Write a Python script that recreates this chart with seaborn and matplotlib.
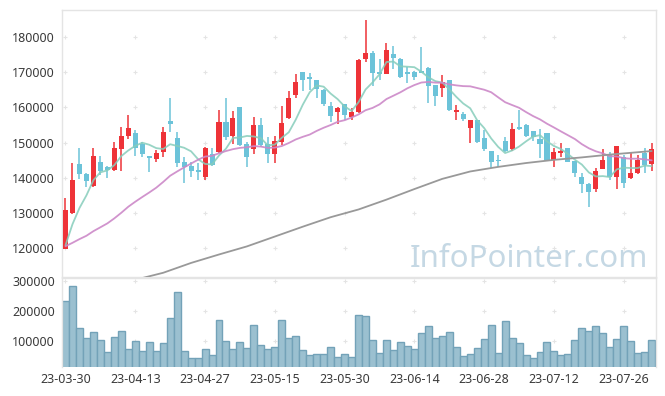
import numpy as np
import pandas as pd
import seaborn as sns
import matplotlib
matplotlib.use("Agg")
from matplotlib import pyplot as plt

# trading days shown on the chart
dates = ["23-03-30", "23-03-31",
         "23-04-03", "23-04-04", "23-04-05", "23-04-06", "23-04-07", "23-04-10", "23-04-11", "23-04-12",
         "23-04-13", "23-04-14", "23-04-17", "23-04-18", "23-04-19", "23-04-20", "23-04-21", "23-04-24",
         "23-04-25", "23-04-26", "23-04-27", "23-04-28",
         "23-05-02", "23-05-03", "23-05-04", "23-05-08", "23-05-09", "23-05-10", "23-05-11", "23-05-12",
         "23-05-15", "23-05-16", "23-05-17", "23-05-18", "23-05-19", "23-05-22", "23-05-23", "23-05-24",
         "23-05-25", "23-05-26", "23-05-30", "23-05-31",
         "23-06-01", "23-06-02", "23-06-05", "23-06-07", "23-06-08", "23-06-09", "23-06-12", "23-06-13",
         "23-06-14", "23-06-15", "23-06-16", "23-06-19", "23-06-20", "23-06-21", "23-06-22", "23-06-23",
         "23-06-26", "23-06-27", "23-06-28", "23-06-29", "23-06-30",
         "23-07-03", "23-07-04", "23-07-05", "23-07-06", "23-07-07", "23-07-10", "23-07-11", "23-07-12",
         "23-07-13", "23-07-14", "23-07-17", "23-07-18", "23-07-19", "23-07-20", "23-07-21", "23-07-24",
         "23-07-25", "23-07-26", "23-07-27", "23-07-28", "23-07-31",
         "23-08-01"]

opens = [119900, 130000, 143900, 141200, 137600, 144400, 143000, 142200, 148300, 151900,
         152600, 149600, 146200, 145300, 147400, 156100, 151400, 144400, 143300, 142200,
         140300, 146900, 147400, 155800, 151900, 160000, 149600, 148100, 155000, 149600,
         146700, 150200, 157100, 163500, 170000, 168400, 167800, 165100, 160400, 158800,
         161000, 157200, 158800, 173700, 175500, 170000, 169400, 175200, 173700, 170100,
         170000, 170100, 171100, 166400, 165600, 167800, 158600, 158100, 154200, 156400,
         151400, 147600, 144900, 150400, 148200, 154200, 155000, 153300, 151000, 152600,
         145000, 147100, 148500, 144800, 140300, 138200, 136900, 142400, 146700, 140100,
         146000, 140000, 141400, 147100, 143900]
highs = [134300, 144100, 148400, 141300, 148400, 146200, 143400, 150100, 154300, 157800,
         153600, 150200, 146300, 147900, 154500, 162600, 152900, 145800, 144500, 144100,
         148800, 148500, 159400, 162600, 159000, 160100, 150200, 157300, 156900, 151700,
         151800, 160400, 164700, 169500, 170000, 169800, 167900, 165300, 161600, 160000,
         161000, 159700, 173700, 184800, 176100, 173900, 178200, 177400, 174000, 171600,
         170300, 177100, 171600, 166400, 169200, 167900, 160700, 158800, 156400, 156400,
         153600, 147600, 146500, 151700, 155500, 159400, 155200, 153300, 154000, 152600,
         148500, 149800, 148600, 144800, 141400, 138400, 142700, 148100, 147200, 149000,
         146500, 147400, 146500, 148400, 150000]
lows = [119700, 129700, 139800, 137400, 137300, 140800, 139900, 142000, 142000, 150900,
        146200, 146000, 141700, 144500, 146000, 153100, 143000, 138400, 140100, 139500,
        139500, 143400, 147100, 150700, 149600, 149100, 143100, 146900, 148800, 144100,
        144100, 149300, 156800, 162600, 164700, 165100, 162600, 160500, 155900, 155200,
        156400, 156400, 158500, 173000, 166100, 167800, 169400, 170900, 168500, 167000,
        167900, 169700, 161400, 160400, 163000, 159000, 156400, 156100, 150000, 149900,
        147600, 142700, 143100, 147200, 147700, 153600, 151500, 150500, 145500, 144800,
        143100, 146000, 144400, 140300, 135700, 131600, 136000, 142400, 139500, 136700,
        137000, 139600, 141000, 141500, 142000]
closes = [130800, 139500, 141000, 139100, 146200, 142000, 142200, 148600, 151900, 154200,
          148500, 146700, 145700, 147100, 152900, 155300, 144300, 143100, 142000, 141700,
          148600, 143600, 155800, 151700, 156900, 149300, 145800, 155000, 149300, 146700,
          150400, 155500, 162800, 167300, 167800, 168200, 165200, 161000, 157500, 159900,
          157800, 158800, 173500, 175500, 169900, 169400, 176300, 174100, 168700, 169400,
          168700, 169900, 166200, 163200, 167300, 159200, 159200, 156700, 156400, 150200,
          148200, 144500, 144700, 147600, 153800, 153800, 151900, 151500, 149600, 145000,
          147200, 147600, 144500, 141400, 138100, 136000, 141900, 145000, 140100, 149000,
          138400, 141400, 145000, 143600, 148200]
volumes = [233000, 283000, 142000, 109000, 129000, 102000, 62000, 112000, 132000, 72000,
           99000, 66000, 96000, 66000, 92000, 176000, 262000, 66000, 42000, 42000,
           72000, 52000, 169000, 99000, 72000, 96000, 76000, 152000, 86000, 72000,
           79000, 169000, 109000, 116000, 69000, 52000, 56000, 56000, 79000, 46000,
           56000, 46000, 186000, 182000, 102000, 59000, 102000, 69000, 96000, 82000,
           72000, 126000, 149000, 109000, 116000, 129000, 79000, 49000, 56000, 76000,
           106000, 152000, 59000, 166000, 109000, 92000, 52000, 42000, 62000, 96000,
           66000, 52000, 56000, 102000, 142000, 132000, 149000, 126000, 79000, 106000,
           149000, 99000, 59000, 62000, 102000]

# moving averages as drawn on the chart
ma5 = [120800, 126800, 131400, 135000, 139320, 141560, 142100, 143620, 146180, 147780,
       149080, 149980, 149400, 148440, 148180, 149540, 149060, 148540, 147520, 145280,
       143940, 143800, 146340, 148280, 151320, 151460, 151900, 151740, 151260, 149220,
       149440, 151380, 152940, 156540, 160760, 164320, 166260, 165900, 163940, 162360,
       160280, 159000, 161500, 165100, 167100, 169420, 172920, 173040, 171680, 171580,
       171440, 170160, 168580, 167480, 167060, 165160, 163020, 161120, 159760, 156340,
       154140, 151200, 148800, 147040, 147760, 148880, 150360, 151720, 152120, 150360,
       149040, 148180, 146780, 145140, 143760, 141520, 140380, 140480, 140220, 142400,
       142880, 142780, 142780, 143480, 143320]
ma20 = [120540, 121515, 122565, 123520, 124830, 125930, 127040, 128470, 130065, 131775,
        133200, 134535, 135820, 137175, 138820, 140585, 141800, 142955, 144055, 145140,
        146030, 146235, 146975, 147605, 148140, 148505, 148685, 149005, 148875, 148500,
        148595, 149035, 149890, 150900, 151645, 152290, 153335, 154230, 155005, 155915,
        156375, 157135, 158020, 159210, 159860, 160865, 162390, 163345, 164315, 165450,
        166365, 167085, 167255, 167050, 167025, 166575, 166275, 166060, 166005, 165520,
        165040, 164325, 162885, 161490, 160685, 159905, 158685, 157555, 156600, 155380,
        154305, 153190, 152105, 151015, 149555, 148395, 147530, 146945, 146130, 146070,
        145580, 145425, 145440, 145240, 144960]
ma_long_idx = [11, 14, 18, 22, 26, 30, 34, 38, 42, 46, 50, 54, 58, 62, 66, 70, 74, 78, 84]
ma_long = [111500, 113000, 115800, 118200, 120500, 123300, 126100, 128800, 131000, 133800,
           136800, 139700, 141800, 143100, 144200, 145100, 145800, 146600, 147600]

price_ticks = [120000, 130000, 140000, 150000, 160000, 170000, 180000]
volume_ticks = [100000, 200000, 300000]

RED = "#ee3338"
BLUE = "#6cc3d9"
GRID = "#e4e4e4"
FRAME = "#e4e4e4"

sns.set_style("white")
plt.rcParams["font.family"] = ["Noto Sans", "DejaVu Sans"]

df = pd.DataFrame({"date": dates, "open": opens, "high": highs, "low": lows,
                   "close": closes, "volume": volumes, "ma5": ma5, "ma20": ma20})
df["idx"] = np.arange(len(df))
long_df = pd.DataFrame({"idx": ma_long_idx, "ma": ma_long})

W, H = 665, 396
fig = plt.figure(figsize=(W / 100, H / 100), dpi=100)
ax = fig.add_axes([62 / W, 1 - 277 / H, (655.5 - 62) / W, (277 - 10) / H])
ax_vol = fig.add_axes([62 / W, 1 - 367 / H, (655.5 - 62) / W, (367 - 277.5) / H])

# small "+" marks at tick crossings instead of grid lines
tick_idx = list(range(0, len(df), 10))
gx, gy = np.meshgrid(tick_idx, price_ticks)
ax.scatter(gx.ravel(), gy.ravel(), marker="+", s=9, color=GRID, linewidths=0.8, zorder=0)
gx, gy = np.meshgrid(tick_idx, volume_ticks)
ax_vol.scatter(gx.ravel(), gy.ravel(), marker="+", s=9, color=GRID, linewidths=0.8, zorder=0)

# candles
up = df["close"] >= df["open"]
colors = np.where(up, RED, BLUE)
ax.vlines(df["idx"], df["low"], df["high"], colors=colors, linewidth=1.1, zorder=2)
body_bottom = np.minimum(df["open"], df["close"])
body_height = np.maximum((df["close"] - df["open"]).abs(), 500)
ax.bar(df["idx"], body_height, bottom=body_bottom, width=0.72, color=colors,
       linewidth=0, zorder=3)

# moving averages
sns.lineplot(data=df, x="idx", y="ma5", ax=ax, color="#86cdbb", linewidth=1.3, alpha=0.85, zorder=4)
sns.lineplot(data=df, x="idx", y="ma20", ax=ax, color="#cc88c8", linewidth=1.3, alpha=0.9, zorder=4)
sns.lineplot(data=long_df, x="idx", y="ma", ax=ax, color="#999999", linewidth=1.3, zorder=4)

# volume
sns.barplot(data=df, x="idx", y="volume", ax=ax_vol, native_scale=True, width=1.0,
            color="#9bc0d0", edgecolor="#73a2b8", linewidth=1.0, saturation=1, zorder=2)

for a in (ax, ax_vol):
    a.set_xlim(-0.5, len(df) - 0.45)
    a.set_xlabel("")
    a.set_ylabel("")
    a.tick_params(length=0, labelsize=9, colors="#3a3a3a", pad=5)
    for s in a.spines.values():
        s.set_color(FRAME)
        s.set_linewidth(1.0)

ax.set_ylim(111800, 187700)
ax.set_yticks(price_ticks)
ax.set_yticklabels([str(t) for t in price_ticks])
ax.set_xticks(tick_idx)
ax.set_xticklabels([])

ax_vol.set_ylim(13000, 310000)
ax_vol.set_yticks(volume_ticks)
ax_vol.set_yticklabels([str(t) for t in volume_ticks])
ax_vol.set_xticks(tick_idx)
ax_vol.set_xticklabels([dates[i] for i in tick_idx])
ax_vol.tick_params(axis="x", pad=4)
ax_vol.spines["bottom"].set_visible(False)

fig.text(648 / W, 1 - 267 / H, "InfoPointer.com", ha="right", va="baseline",
         fontsize=22.5, color="#c5d8e4")

fig.savefig("out.png", dpi=100)
